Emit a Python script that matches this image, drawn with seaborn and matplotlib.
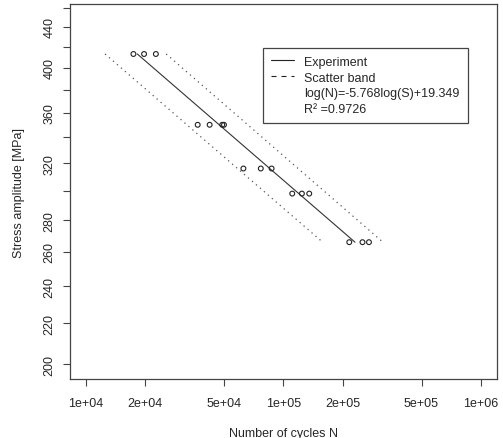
import numpy as np
import pandas as pd
import matplotlib
matplotlib.use("Agg")
import matplotlib.pyplot as plt
import seaborn as sns
from matplotlib.lines import Line2D

# test results
cycles = [17400, 19700, 22600,
          36800, 42300, 49000, 50000,
          62700, 76800, 87100,
          110800, 124000, 135100,
          215400, 251300, 271000]
stress = [413, 413, 413,
          350, 350, 350, 350,
          316, 316, 316,
          298, 298, 298,
          266, 266, 266]

# fitted curve log(N) = a*log(S) + b
fit_a = -5.768
fit_b = 19.349
fit_r2 = 0.9726
fit_S = [413, 266]

# scatter band end points
band_S = [413, 266]
band_low_N = [12500, 158000]
band_high_N = [25500, 319000]

x_ticks = [1e4, 2e4, 5e4, 1e5, 2e5, 5e5, 1e6]
x_labels = ["1e+04", "2e+04", "5e+04", "1e+05", "2e+05", "5e+05", "1e+06"]
y_ticks = list(range(200, 461, 20))
y_labels = ["200", "220", "240", "260", "280", "", "320", "", "360", "", "400", "", "440", ""]

sns.set_style("ticks")
plt.rcParams["font.family"] = ["Liberation Sans", "DejaVu Sans"]
fs = 9
text_col = "#262626"

fig = plt.figure(figsize=(5.03, 4.39), dpi=100)
ax = fig.add_axes([0.139, 0.134, 0.849, 0.855])

pts = pd.DataFrame({"N": cycles, "S": stress})
fit_df = pd.DataFrame({"S": fit_S})
fit_df["N"] = 10 ** (fit_b + fit_a * np.log10(fit_df["S"]))
low_df = pd.DataFrame({"N": band_low_N, "S": band_S})
high_df = pd.DataFrame({"N": band_high_N, "S": band_S})

for d in (low_df, high_df):
    sns.lineplot(data=d, x="N", y="S", ax=ax, color="#555555", lw=0.9,
                 linestyle=(0, (1, 3.2)), sort=False, estimator=None)
sns.lineplot(data=fit_df, x="N", y="S", ax=ax, color="#333333", lw=0.8,
             sort=False, estimator=None)
sns.scatterplot(data=pts, x="N", y="S", ax=ax, marker="o", s=12,
                facecolor="none", edgecolor="#222222", linewidth=0.8, zorder=5)

ax.set_xscale("log")
ax.set_yscale("log")
ax.set_xlim(10 ** 3.919, 10 ** 6.081)
ax.set_ylim(193.1, 464.4)
ax.set_xticks(x_ticks)
ax.set_xticklabels(x_labels)
ax.set_yticks(y_ticks)
ax.set_yticklabels(y_labels, rotation=90, va="center")
ax.minorticks_off()
ax.tick_params(axis="both", direction="out", length=5, width=0.8,
               colors="#444444", labelcolor=text_col, labelsize=fs)
ax.tick_params(axis="x", pad=7.5)
ax.tick_params(axis="y", pad=5.5)

for sp in ax.spines.values():
    sp.set_visible(True)
    sp.set_color("#444444")
    sp.set_linewidth(0.9)

ax.set_xlabel("Number of cycles N", fontsize=fs, color=text_col, labelpad=13)
ax.set_ylabel("Stress amplitude [MPa]", fontsize=fs, color=text_col, labelpad=13)

handles = [Line2D([], [], color="#222222", lw=0.8),
           Line2D([], [], color="#222222", lw=0.8, linestyle=(0, (4.5, 4.5))),
           Line2D([], [], color="none"),
           Line2D([], [], color="none")]
labels = ["Experiment", "Scatter band",
          "log(N)=-5.768log(S)+19.349", "R\u00b2 =" + str(fit_r2)]
leg = ax.legend(handles, labels, loc="upper left", bbox_to_anchor=(0.452, 0.883),
                frameon=True, fancybox=False, framealpha=1, edgecolor="#444444",
                fontsize=fs, handlelength=1.85, handletextpad=0.8,
                labelspacing=0.3, borderpad=0.65, borderaxespad=0)
leg.get_frame().set_linewidth(0.9)
for t in leg.get_texts():
    t.set_color(text_col)

fig.savefig("out.png", dpi=100)
